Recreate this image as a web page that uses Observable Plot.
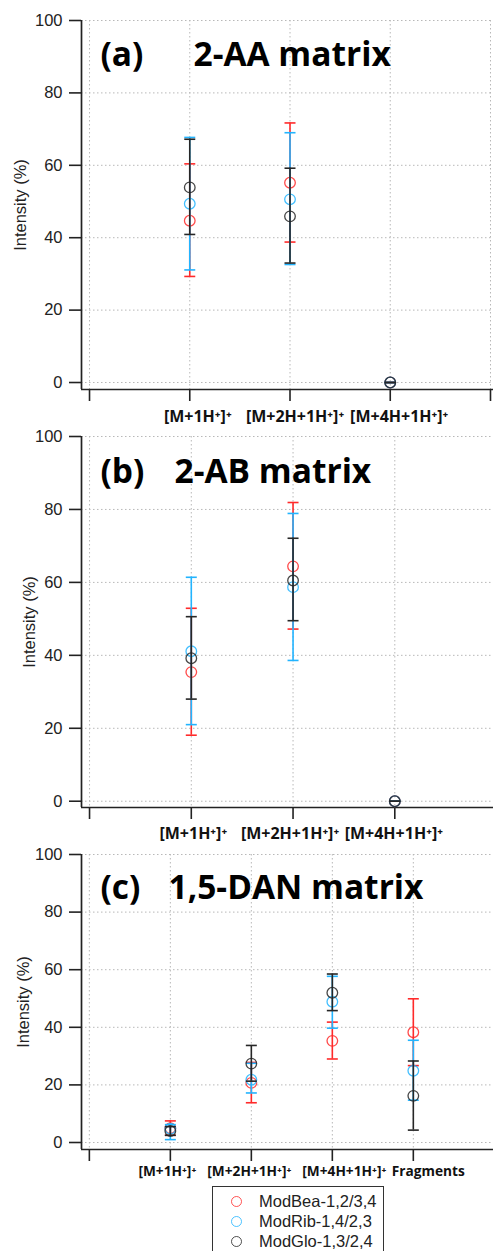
<!DOCTYPE html>
<html><head><meta charset="utf-8">
<script src="https://cdn.jsdelivr.net/npm/d3@7"></script>
<script src="https://cdn.jsdelivr.net/npm/@observablehq/plot@0.6"></script>
<style>
html,body{margin:0;padding:0;background:#fff;}
body{width:493px;height:1251px;overflow:hidden;position:relative;font-family:"Liberation Sans",Arial,sans-serif;}
#chart svg{display:block;}
#legend{position:absolute;left:212px;top:1186px;width:172px;height:80px;border:1.6px solid #333;box-sizing:border-box;padding-top:4px;}
#legend .row{height:20px;display:flex;align-items:center;font-size:16.5px;color:#222;}
#legend .sym{width:9px;height:9px;border-radius:50%;border:1.4px solid;margin-left:18px;margin-right:17px;}
</style>
</head><body>
<div id="chart"></div>
<div id="legend"></div>
<script>
// ---- data ----
const seriesNames = ["ModBea-1,2/3,4", "ModRib-1,4/2,3", "ModGlo-1,3/2,4"];
const seriesColors = ["#ff2a2a", "#22b4ff", "#262626"];
const catsAB = ["[M+1H⁺]⁺", "[M+2H+1H⁺]⁺", "[M+4H+1H⁺]⁺"];
const catsC = ["[M+1H⁺]⁺", "[M+2H+1H⁺]⁺", "[M+4H+1H⁺]⁺", "Fragments"];
const yTickValues = [0, 20, 40, 60, 80, 100];
const yLabel = "Intensity (%)";

// panel (a) 2-AA matrix
const aBeaMean = [44.7, 55.2, 0], aBeaLo = [29.3, 38.8, 0], aBeaHi = [60.4, 71.7, 0];
const aRibMean = [49.4, 50.6, 0], aRibLo = [31.1, 32.6, 0], aRibHi = [67.7, 69.0, 0];
const aGloMean = [53.9, 45.9, 0], aGloLo = [40.9, 33.0, 0], aGloHi = [67.2, 59.2, 0];
// panel (b) 2-AB matrix
const bBeaMean = [35.4, 64.4, 0], bBeaLo = [18.1, 47.2, 0], bBeaHi = [52.9, 81.9, 0];
const bRibMean = [41.1, 58.7, 0], bRibLo = [21.0, 38.6, 0], bRibHi = [61.4, 78.9, 0];
const bGloMean = [39.2, 60.5, 0], bGloLo = [28.0, 49.5, 0], bGloHi = [50.6, 72.1, 0];
// panel (c) 1,5-DAN matrix
const cBeaMean = [5.0, 20.7, 35.3, 38.3], cBeaLo = [2.5, 13.8, 29.0, 26.7], cBeaHi = [7.5, 27.8, 41.8, 49.9];
const cRibMean = [4.8, 21.8, 48.9, 24.9], cRibLo = [1.0, 17.2, 39.7, 14.7], cRibHi = [6.2, 27.5, 57.7, 35.5];
const cGloMean = [4.0, 27.4, 52.0, 16.2], cGloLo = [2.5, 21.3, 45.8, 4.3], cGloHi = [5.5, 33.7, 58.5, 28.3];

function rowsFor(cats, groups) {
  const rows = [];
  groups.forEach(([mean, lo, hi], s) => {
    cats.forEach((c, i) => rows.push({series: seriesNames[s], x: i + 1, cat: c, mean: mean[i], lo: lo[i], hi: hi[i]}));
  });
  return rows;
}

const capSymbol = {
  draw(ctx, size) { const w = Math.sqrt(size / Math.PI); ctx.moveTo(-w, 0); ctx.lineTo(w, 0); }
};

function panel(o) {
  const xt = d3.range(0, o.cats.length + 2).filter(v => v <= o.xDomain[1]);
  const marks = [
    Plot.gridY(yTickValues, {stroke: "#b8b8b8", strokeOpacity: 1, strokeDasharray: "1.5,2.5"}),
    Plot.gridX(xt, {stroke: "#b8b8b8", strokeOpacity: 1, strokeDasharray: "1.5,2.5"}),
    Plot.ruleX([o.xDomain[0]], {stroke: "#222", strokeWidth: 1.7}),
    Plot.ruleY([o.yDomain[0]], {stroke: "#222", strokeWidth: 1.7}),
    Plot.axisY(yTickValues, {tickSize: 12, tickPadding: 7, strokeWidth: 1.6, stroke: "#222", fill: "#222", fontSize: 16.5, label: null}),
    Plot.text([yLabel], {frameAnchor: "left", rotate: -90, textAnchor: "middle", lineAnchor: "middle", dx: o.labelDx,
      fontSize: 16.5, fill: "#222"}),
    Plot.axisX(xt, {tickSize: 12, strokeWidth: 1.6, stroke: "#222", tickFormat: () => "", label: null}),
    Plot.text([o.tag], {frameAnchor: "top-left", textAnchor: "start", lineAnchor: "middle", dx: 19, dy: o.titleDy,
      fontSize: 33.5, fontWeight: "bold", fontFamily: "Open Sans", fill: "#000"}),
    Plot.text([o.title], {frameAnchor: "top-left", textAnchor: "start", lineAnchor: "middle", dx: o.titleDx, dy: o.titleDy,
      fontSize: 33.5, fontWeight: "bold", fontFamily: "Open Sans", fill: "#000"})
  ];
  // category labels under the axis
  o.cats.forEach((c, i) => {
    marks.push(Plot.text([{x: i + 1, y: o.yDomain[0], label: c}], {x: "x", y: "y", text: "label",
      dy: o.labelDy, dx: o.labelShift[i], lineAnchor: "middle", textAnchor: "middle",
      fontSize: o.xFont, fontWeight: "bold", fontFamily: "Open Sans", fill: "#111"}));
  });
  seriesNames.forEach(s => {
    const d = o.rows.filter(r => r.series === s);
    marks.push(
      Plot.ruleX(d, {x: "x", y1: "lo", y2: "hi", stroke: "series", strokeWidth: 1.6}),
      Plot.dot(d, {x: "x", y: "lo", symbol: capSymbol, r: 5.5, stroke: "series", strokeWidth: 1.6}),
      Plot.dot(d, {x: "x", y: "hi", symbol: capSymbol, r: 5.5, stroke: "series", strokeWidth: 1.6}),
      Plot.dot(d, {x: "x", y: "mean", r: 5.3, stroke: "series", strokeWidth: 1.3, fill: "none", strokeOpacity: 0.85})
    );
  });
  return Plot.plot({
    width: 493, height: o.height, marginTop: o.marginTop, marginBottom: o.marginBottom, marginLeft: 81, marginRight: 0,
    style: {fontFamily: "Liberation Sans, Arial, sans-serif", background: "#fff", overflow: "visible"},
    x: {domain: o.xDomain, axis: null},
    y: {domain: o.yDomain, axis: null},
    color: {domain: seriesNames, range: seriesColors},
    marks
  });
}

const chart = document.getElementById("chart");
chart.append(panel({
  rows: rowsFor(catsAB, [[aBeaMean, aBeaLo, aBeaHi], [aRibMean, aRibLo, aRibHi], [aGloMean, aGloLo, aGloHi]]),
  cats: catsAB, xDomain: [-0.08, 4.03], yDomain: [-1.93, 100], height: 427, marginTop: 20, marginBottom: 38,
  tag: "(a)", title: "2-AA matrix", titleDx: 112, titleDy: 35, labelDx: -61, labelDy: 27, labelShift: [8, 5, 9], xFont: 16
}));
chart.append(panel({
  rows: rowsFor(catsAB, [[bBeaMean, bBeaLo, bBeaHi], [bRibMean, bRibLo, bRibHi], [bGloMean, bGloLo, bGloHi]]),
  cats: catsAB, xDomain: [-0.079, 3.97], yDomain: [-1.72, 100], height: 418, marginTop: 9, marginBottom: 38,
  tag: "(b)", title: "2-AB matrix", titleDx: 93, titleDy: 36, labelDx: -52, labelDy: 26, labelShift: [2, -3, -1], xFont: 16
}));
chart.append(panel({
  rows: rowsFor(catsC, [[cBeaMean, cBeaLo, cBeaHi], [cRibMean, cRibLo, cRibHi], [cGloMean, cGloLo, cGloHi]]),
  cats: catsC, xDomain: [-0.097, 4.99], yDomain: [-2.43, 100], height: 340, marginTop: 9, marginBottom: 36,
  tag: "(c)", title: "1,5-DAN matrix", titleDx: 87, titleDy: 34, labelDx: -58, labelDy: 22, labelShift: [-3, -2, 12, 15], xFont: 13.7
}));

const legend = document.getElementById("legend");
seriesNames.forEach((s, i) => {
  const row = document.createElement("div");
  row.className = "row";
  const sym = document.createElement("span");
  sym.className = "sym";
  sym.style.borderColor = seriesColors[i];
  sym.style.opacity = 0.8;
  const t = document.createElement("span");
  t.textContent = s;
  row.append(sym, t);
  legend.append(row);
});
</script>
</body></html>
